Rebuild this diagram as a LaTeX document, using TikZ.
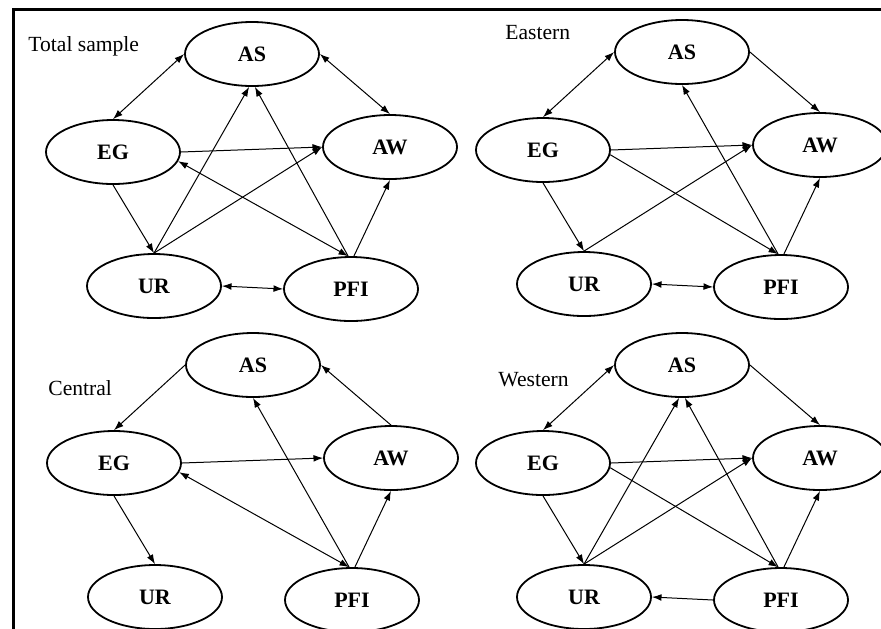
\documentclass[tikz,border=0pt]{standalone}
\usepackage{fontspec}
\setmainfont{Liberation Serif}
\usetikzlibrary{arrows.meta, shapes.geometric}

\begin{document}
\begin{tikzpicture}[
    x=0.5pt, y=-0.5pt,
    >={Latex[length=4.8pt, width=3.4pt]},
    var/.style={draw, ellipse, line width=0.9pt, minimum width=67pt, minimum height=32pt, inner sep=0pt, font=\fontsize{11}{13}\selectfont\bfseries},
    panel/.style={anchor=base west, inner sep=0pt, font=\fontsize{10.8}{13}\selectfont},
    link/.style={line width=0.5pt},
  ]
  \useasboundingbox (0,0) rectangle (881,628);
  \clip (0,0) rectangle (881,628);
  % Frame
  \draw[line width=1.5pt] (13,640) -- (13,9) -- (890,9);
  % Variables of the four panels
  \foreach \p/\dx/\dy in {t/0/0, e/430/-2, c/1/311, w/430/311} {
    \node[var] (\p AS) at ({252+\dx},{54+\dy}) {AS};
    \node[var] (\p EG) at ({113+\dx},{152+\dy}) {EG};
    \node[var] (\p AW) at ({390+\dx},{147+\dy}) {AW};
    \node[var] (\p UR) at ({154+\dx},{286+\dy}) {UR};
    \node[var] (\p PFI) at ({351+\dx},{289+\dy}) {PFI};
  }
  \node[panel] (ttitle) at (28,51) {Total sample};
  \node[panel] (etitle) at (505,39) {Eastern};
  \node[panel] (ctitle) at (48,395) {Central};
  \node[panel] (wtitle) at (498,386) {Western};

  % Total sample
  \draw[link, <->] (tAS.west) -- (tEG.north);
  \draw[link, <->] (tAS.east) -- (tAW.north);
  \draw[link, ->] (tEG.east) -- (tAW.west);
  \draw[link, ->] (tEG.south) -- (tUR.north);
  \draw[link, ->] (tUR.north) -- (tAS.265);
  \draw[link, ->] (tUR.north) -- (tAW.west);
  \draw[link, ->] (tPFI.95) -- (tAS.275);
  \draw[link, <->] (tPFI.95) -- (tEG.-8);
  \draw[link, ->] (tPFI.85) -- (tAW.south);
  \draw[link, <->] (tUR.east) -- (tPFI.west);

  % Eastern
  \draw[link, <->] (eAS.west) -- (eEG.north);
  \draw[link, ->] (eAS.east) -- (eAW.north);
  \draw[link, ->] (eEG.east) -- (eAW.west);
  \draw[link, ->] (eEG.-4) -- (ePFI.95);
  \draw[link, ->] (eEG.south) -- (eUR.north);
  \draw[link, ->] (eUR.north) -- (eAW.west);
  \draw[link, ->] (ePFI.95) -- (eAS.south);
  \draw[link, ->] (ePFI.85) -- (eAW.south);
  \draw[link, <->] (eUR.east) -- (ePFI.west);

  % Central
  \draw[link, ->] (cAS.west) -- (cEG.north);
  \draw[link, ->] (cAW.north) -- (cAS.east);
  \draw[link, ->] (cEG.east) -- (cAW.west);
  \draw[link, ->] (cEG.south) -- (cUR.north);
  \draw[link, <->] (cPFI.95) -- (cEG.-8);
  \draw[link, ->] (cPFI.95) -- (cAS.south);
  \draw[link, ->] (cPFI.85) -- (cAW.south);

  % Western
  \draw[link, <->] (wAS.west) -- (wEG.north);
  \draw[link, ->] (wAS.east) -- (wAW.north);
  \draw[link, ->] (wEG.east) -- (wAW.west);
  \draw[link, ->] (wEG.-4) -- (wPFI.95);
  \draw[link, ->] (wEG.south) -- (wUR.north);
  \draw[link, ->] (wUR.north) -- (wAS.265);
  \draw[link, ->] (wUR.north) -- (wAW.west);
  \draw[link, ->] (wPFI.95) -- (wAS.275);
  \draw[link, ->] (wPFI.85) -- (wAW.south);
  \draw[link, ->] (wPFI.west) -- (wUR.east);
\end{tikzpicture}
\end{document}
